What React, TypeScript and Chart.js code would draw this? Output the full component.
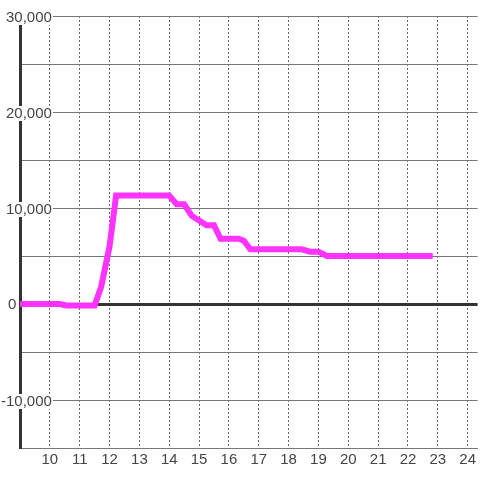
import React, { useEffect, useRef } from "react";
import { Chart, registerables } from "chart.js";

Chart.register(...registerables);

// Time of day (hours) and value of the series
const times = [9, 10.33, 10.55, 11.5, 11.72, 12.0, 12.22, 14.0, 14.25, 14.5, 14.75, 15.25, 15.5, 15.72, 16.33, 16.5, 16.72, 18.44, 18.72, 19.0, 19.28, 22.83];
const values = [0, 0, -150, -150, 1800, 6000, 11300, 11300, 10400, 10400, 9200, 8200, 8200, 6800, 6800, 6600, 5700, 5700, 5450, 5450, 5000, 5000];

// Axis ticks
const xTickHours = [10, 11, 12, 13, 14, 15, 16, 17, 18, 19, 20, 21, 22, 23, 24];
const yLabelValues = [-10000, 10000, 20000, 30000];
const yZeroLabel = [0];
const yGridStep = 5000;
const yMin = -15000;
const yMax = 30000;
const xMin = 9;
const xMax = 24.333;

const fmt = (v: number) => Number(v).toLocaleString("en-US");

export default function App() {
  const ref = useRef<HTMLCanvasElement>(null);

  useEffect(() => {
    const font = { family: "'Liberation Sans', Arial, sans-serif", size: 15, lineHeight: 1 };
    const chart = new Chart(ref.current!, {
      type: "line",
      data: {
        datasets: [
          {
            data: times.map((t, i) => ({ x: t, y: values[i] })),
            borderColor: "#ff33ff",
            borderWidth: 6,
            pointRadius: 0,
            fill: false,
            tension: 0,
          },
        ],
      },
      options: {
        animation: false,
        responsive: false,
        devicePixelRatio: 1,
        layout: { padding: { top: 16, left: 0, right: 0, bottom: 0 } },
        plugins: { legend: { display: false }, tooltip: { enabled: false } },
        scales: {
          x: {
            type: "linear",
            position: "bottom",
            min: xMin,
            max: xMax,
            afterBuildTicks: (s: any) => {
              s.ticks = xTickHours.map((v) => ({ value: v }));
            },
            afterFit: (s: any) => {
              s.height = 32;
            },
            grid: { color: "#666", lineWidth: 1, drawTicks: false },
            border: { display: true, color: "#777", width: 1, dash: [2, 2] },
            ticks: {
              font,
              color: "#444",
              padding: 4,
              maxRotation: 0,
              autoSkip: false,
              callback: (v: any) => String(v),
            },
          },
          y: {
            type: "linear",
            position: "left",
            weight: 10,
            min: yMin,
            max: yMax,
            afterFit: (s: any) => {
              s.width = 20;
            },
            ticks: { display: false, stepSize: yGridStep },
            grid: {
              drawTicks: false,
              color: (c: any) => (c.tick && c.tick.value === 0 ? "#333" : "#777"),
              lineWidth: (c: any) => (c.tick && c.tick.value === 0 ? 3 : 1),
            },
            border: { display: true, color: "#333", width: 3 },
          },
          yl: {
            type: "linear",
            position: "left",
            weight: 0,
            min: yMin,
            max: yMax,
            afterBuildTicks: (s: any) => {
              s.ticks = yLabelValues.map((v) => ({ value: v }));
            },
            afterFit: (s: any) => {
              s.width = 0;
            },
            grid: { display: false, drawTicks: false },
            border: { display: false },
            ticks: {
              font,
              color: "#444",
              mirror: true,
              padding: -19,
              labelOffset: 1.5,
              crossAlign: "far",
              autoSkip: false,
              showLabelBackdrop: true,
              backdropColor: "#ffffff",
              backdropPadding: { top: 0, bottom: 0, left: 2, right: 1 },
              callback: (v: any) => fmt(v),
            },
          },
          yz: {
            type: "linear",
            position: "left",
            weight: 1,
            min: yMin,
            max: yMax,
            afterBuildTicks: (s: any) => {
              s.ticks = yZeroLabel.map((v) => ({ value: v }));
            },
            afterFit: (s: any) => {
              s.width = 0;
            },
            grid: { display: false, drawTicks: false },
            border: { display: false },
            ticks: {
              font,
              color: "#444",
              mirror: true,
              padding: -12,
              labelOffset: 1,
              crossAlign: "far",
              autoSkip: false,
              callback: (v: any) => fmt(v),
            },
          },
        },
      } as any,
    });
    return () => chart.destroy();
  }, []);

  return (
    <div style={{ position: "fixed", left: 0, top: 0, width: 480, height: 480, background: "#fff" }}>
      <canvas ref={ref} width={480} height={480} style={{ display: "block", width: 480, height: 480 }} />
    </div>
  );
}
